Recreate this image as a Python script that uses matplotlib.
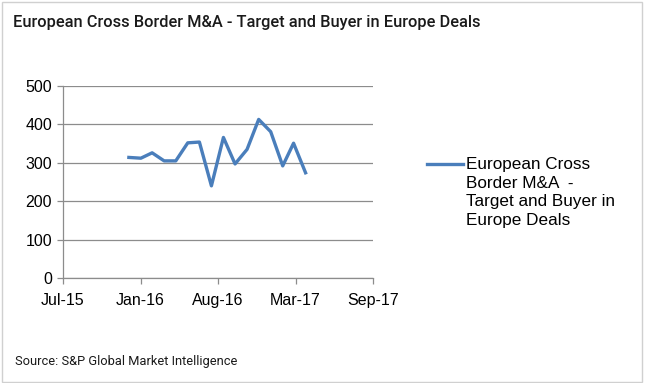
import datetime as dt
import matplotlib
matplotlib.use("Agg")
import matplotlib.pyplot as plt
import matplotlib.dates as mdates
from matplotlib.lines import Line2D
from matplotlib.patches import Rectangle

# monthly deal counts, Jan-16 .. Apr-17
months = ["2016-01", "2016-02", "2016-03", "2016-04", "2016-05", "2016-06",
          "2016-07", "2016-08", "2016-09", "2016-10", "2016-11", "2016-12",
          "2017-01", "2017-02", "2017-03", "2017-04"]
deals = [314, 312, 326, 305, 305, 352, 354, 240, 366, 297, 335, 413, 381, 292, 351, 274]
series_name = "European Cross\nBorder M&A  -\nTarget and Buyer in\nEurope Deals"
title = "European Cross Border M&A - Target and Buyer in Europe Deals"
source = "Source: S&P Global Market Intelligence"

dates = [dt.datetime.strptime(m, "%Y-%m") for m in months]

# excel-style date axis: 5 evenly spaced ticks
x0 = dt.datetime(2015, 7, 15)
xticks = [x0 + dt.timedelta(days=200 * i) for i in range(5)]

blue = "#4a7ebb"
grey = "#8c8c8c"

plt.rcParams['font.family'] = ['Liberation Sans', 'DejaVu Sans']

fig = plt.figure(figsize=(6.45, 3.83), dpi=100)
ax = fig.add_axes([63 / 645, 1 - 278 / 383, 310 / 645, 192 / 383])

ax.plot(dates, deals, color=blue, lw=2.4, solid_joinstyle='round')

ax.set_xlim(xticks[0], xticks[-1])
ax.set_xticks(xticks)
ax.xaxis.set_major_formatter(mdates.DateFormatter("%b-%y"))
ax.set_ylim(0, 500)
ax.set_yticks(range(0, 501, 100))
ax.grid(axis='y', color=grey, lw=0.9)
ax.set_axisbelow(True)

for s in ['top', 'right']:
    ax.spines[s].set_visible(False)
for s in ['left', 'bottom']:
    ax.spines[s].set_color(grey)
    ax.spines[s].set_linewidth(0.9)
ax.tick_params(axis='both', colors=grey, labelcolor='black', labelsize=11.5,
               length=4, width=0.9, direction='out')
ax.tick_params(axis='y', pad=4)
ax.tick_params(axis='x', pad=7)

# title / source
fig.text(13 / 645, 1 - 22 / 383, title, fontsize=11.8, family=['Roboto'], weight='medium',
         color='#1a1a1a', va='center', ha='left')
fig.text(15 / 645, 1 - 361 / 383, source, fontsize=9.3, family=['Roboto'],
         color='#1a1a1a', va='center', ha='left')

# legend drawn by hand so the key sits on the first line
fig.add_artist(Line2D([427 / 645, 463 / 645], [1 - 164 / 383] * 2, color=blue, lw=2.4))
fig.text(466 / 645, 1 - 157 / 383, series_name, fontsize=12.3, va='top', ha='left',
         linespacing=1.31)

# chart border
fig.add_artist(Rectangle((1.5 / 645, 1.5 / 383), 640 / 645, 380 / 383, fill=False,
                         ec='#d0d0d0', lw=1, transform=fig.transFigure))

fig.savefig("out.png", dpi=100)
